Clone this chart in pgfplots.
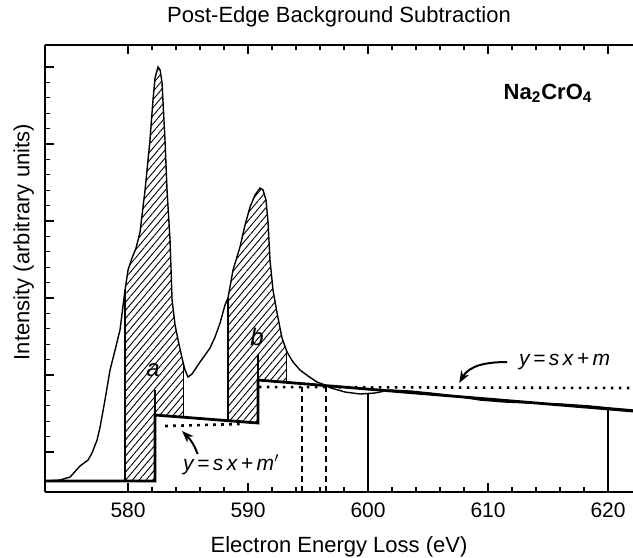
\documentclass[border=0pt]{standalone}
\usepackage{fontspec}
\setmainfont{Liberation Sans}
\usepackage{pgfplots}
\usepackage{pgfplotstable}
\pgfplotsset{compat=1.18}
\usepgfplotslibrary{fillbetween}
\usetikzlibrary{patterns.meta,arrows.meta}

% spectrum, x in eV, y in arbitrary units
\pgfplotstableread{
x y
573.08 11
574.33 12
575.17 15
576.00 26
576.67 32
577.00 39
577.42 52
577.67 65
578.08 92
578.50 122
578.92 142
579.33 162
579.75 202
580.00 222
580.33 234
580.67 244
581.00 260
581.42 302
581.83 352
582.08 392
582.25 414
582.50 425
582.67 422
582.83 410
583.08 352
583.25 302
583.50 252
583.67 192
583.92 167
584.17 152
584.50 134
584.75 122
585.00 115
585.33 118
585.67 124
586.00 130
586.42 137
586.83 144
587.25 155
587.67 169
588.08 187
588.33 194
588.75 222
589.33 245
589.75 267
590.17 285
590.58 297
591.00 304
591.25 302
591.50 292
591.67 269
591.83 232
592.08 202
592.42 179
592.83 154
593.25 140
593.75 130
594.33 122
595.00 116
595.75 110
596.42 107
596.92 104
598.08 100
599.33 98
600.58 99
601.83 102
603.50 101
605.17 99
607.25 96
609.33 92
611.42 90
613.50 89
616.00 88
618.50 86
620.17 84
622.08 82
}\spectrum

% post-edge background (step function with slope s)
\pgfplotstableread{
x y
573.08 11
582.25 11
582.25 77
590.83 69
590.83 112
622.08 81
}\background

\begin{document}
\begin{tikzpicture}
\begin{axis}[
    scale only axis,
    width=294pt, height=223.5pt,
    xmin=573.08, xmax=622.08,
    ymin=0, ymax=447,
    axis x line*=box, axis y line*=left,
    axis line style={-, line width=0.9pt},
    xtick={580,590,600,610,620},
    minor x tick num=4,
    ytick={40,117,194,271,348,425},
    yticklabels={},
    minor y tick num=4,
    ytick pos=left,
    tick align=inside,
    major tick length=4.5pt, minor tick length=2.5pt,
    tick style={black, line width=0.6pt},
    /pgf/number format/assume math mode=true,
    ticklabel style={font=\fontsize{10.5}{12}\selectfont},
    xticklabel style={yshift=-2pt},
    title={Post-Edge Background Subtraction},
    title style={at={(axis description cs:0.5,1.0246)}, anchor=base, inner sep=0pt, font=\fontsize{11}{13}\selectfont},
    xlabel={Electron Energy Loss (eV)},
    xlabel style={at={(axis description cs:0.5,-0.1454)}, anchor=south, inner sep=0pt, font=\fontsize{11}{13}\selectfont},
    ylabel={Intensity (arbitrary units)},
    ylabel style={at={(axis description cs:-0.0544,0.559)}, anchor=north, rotate=0, inner sep=0pt, font=\fontsize{11}{13}\selectfont},
    clip=false,
]
\coordinate (bbll) at (rel axis cs:-0.0765,-0.1454);
\coordinate (bbur) at (rel axis cs:1,1.1007);

\addplot[name path=spec, black, line width=0.7pt] table {\spectrum};
\addplot[name path=bg, black, line width=1.4pt] table {\background};

% hatched areas a and b
\addplot[draw=none, pattern={Lines[angle=50,distance=2.6pt,line width=0.45pt]}]
    fill between[of=spec and bg, soft clip={domain=579.75:584.6}];
\addplot[draw=none, pattern={Lines[angle=50,distance=2.6pt,line width=0.45pt]}]
    fill between[of=spec and bg, soft clip={domain=588.33:593.2}];
\addplot[black, line width=0.6pt] coordinates {(579.75,11) (579.75,202)};
\addplot[black, line width=0.6pt] coordinates {(584.6,75) (584.6,128)};
\addplot[black, line width=0.6pt] coordinates {(588.33,71) (588.33,194)};
\addplot[black, line width=0.6pt] coordinates {(593.2,110) (593.2,141)};

% markers a and b
\addplot[black, line width=0.9pt] coordinates {(582.25,77) (582.25,102)};
\addplot[black, line width=0.9pt] coordinates {(590.83,112) (590.83,137)};

% fit lines
\addplot[black, line width=1.3pt, dash pattern=on 1.3pt off 2.7pt] coordinates {(583.1,66) (589.3,68)};
\addplot[black, line width=1.3pt, dash pattern=on 1.3pt off 2.7pt] coordinates {(590.9,105) (622.08,104)};
\addplot[black, line width=0.6pt, dash pattern=on 3pt off 2pt] coordinates {(594.5,0) (594.5,105)};
\addplot[black, line width=0.6pt, dash pattern=on 3pt off 2pt] coordinates {(596.5,0) (596.5,105)};

% integration windows
\addplot[black, line width=0.6pt] coordinates {(600,0) (600,98.5)};
\addplot[black, line width=0.6pt] coordinates {(620,0) (620,84)};

\node[font=\fontsize{12}{14}\selectfont\itshape] at (axis cs:582.08,122) {a};
\node[font=\fontsize{12}{14}\selectfont\itshape] at (axis cs:590.75,155) {b};
\node[font=\fontsize{11}{13}\selectfont\bfseries] at (axis cs:615,399) {Na\textsubscript{2}CrO\textsubscript{4}};

\node[anchor=west, font=\fontsize{10.5}{12}\selectfont\itshape] at (axis cs:612.0,130) {y\,=\,s\,x\,+\,m};
\draw[-{Stealth[length=6pt,width=4.5pt]}, line width=1pt] (axis cs:611.6,130) to[out=180,in=60] (axis cs:607.6,109);
\node[anchor=west, font=\fontsize{10.5}{12}\selectfont\itshape] at (axis cs:584.0,27) {y\,=\,s\,x\,+\,m$'$};
\draw[-{Stealth[length=6pt,width=4.5pt]}, line width=1pt] (axis cs:585.8,38) to[out=110,in=-45] (axis cs:584.5,61);
\end{axis}
\pgfresetboundingbox
\path (bbll) rectangle (bbur);
\end{tikzpicture}
\end{document}
